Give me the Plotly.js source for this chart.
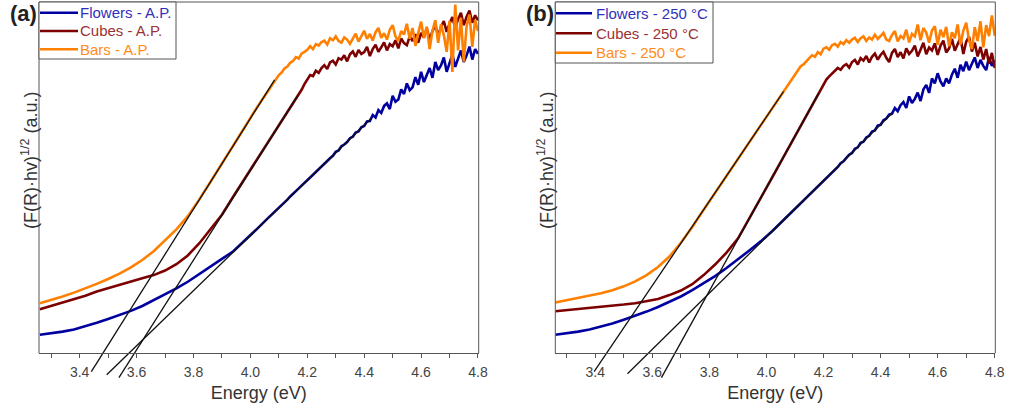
<!DOCTYPE html>
<html>
<head>
<meta charset="utf-8">
<script src="https://cdn.plot.ly/plotly-3.0.1.min.js"></script>
<style>html,body{margin:0;padding:0;background:#fff;}#chart{width:1018px;height:412px;}</style>
</head>
<body>
<div id="chart"></div>
<script>
// Photon energy (eV) – shared grid for all spectra
const energy = [3.26,3.30,3.34,3.38,3.42,3.46,3.50,3.54,3.58,3.62,3.66,3.70,3.74,3.78,3.82,3.86,3.90,3.94,3.98,4.02,4.06,
  4.08,4.09,4.10,4.11,4.12,4.13,4.14,4.15,4.16,4.17,
  4.18,4.19,4.20,4.21,4.22,4.23,4.24,4.25,4.26,4.27,
  4.28,4.29,4.30,4.31,4.32,4.33,4.34,4.35,4.36,4.37,
  4.38,4.39,4.40,4.41,4.42,4.43,4.44,4.45,4.46,4.47,
  4.48,4.49,4.50,4.51,4.52,4.53,4.54,4.55,4.56,4.57,
  4.58,4.59,4.60,4.61,4.62,4.63,4.64,4.65,4.66,4.67,
  4.68,4.69,4.70,4.71,4.72,4.73,4.74,4.75,4.76,4.77,
  4.78,4.79,4.80];

// (a) as-prepared samples, (F(R)·hv)^1/2 in a.u.
const flowersAP = [0.052,0.056,0.061,0.067,0.076,0.086,0.097,0.108,0.120,0.134,0.150,0.166,0.184,0.203,0.224,0.246,0.268,0.290,0.320,0.351,0.383,
  0.398,0.406,0.414,0.421,0.430,0.437,0.446,0.453,0.461,0.469,
  0.477,0.484,0.493,0.500,0.508,0.516,0.523,0.532,0.538,0.549,
  0.555,0.562,0.573,0.577,0.589,0.594,0.601,0.612,0.616,0.628,
  0.631,0.643,0.647,0.660,0.661,0.678,0.671,0.692,0.684,0.704,
  0.711,0.695,0.733,0.716,0.722,0.751,0.738,0.768,0.749,0.757,
  0.786,0.764,0.801,0.772,0.791,0.812,0.784,0.829,0.806,0.819,
  0.842,0.801,0.826,0.851,0.815,0.838,0.862,0.829,0.848,0.873,
  0.836,0.866,0.852];
const cubesAP = [0.125,0.134,0.143,0.153,0.163,0.175,0.185,0.193,0.203,0.213,0.222,0.235,0.253,0.278,0.312,0.352,0.394,0.446,0.497,0.548,0.597,
  0.622,0.635,0.649,0.660,0.672,0.685,0.698,0.710,0.724,0.737,
  0.750,0.766,0.781,0.792,0.789,0.804,0.798,0.812,0.820,0.809,
  0.828,0.833,0.822,0.840,0.836,0.848,0.831,0.851,0.859,0.844,
  0.863,0.852,0.857,0.872,0.846,0.866,0.878,0.858,0.871,0.885,
  0.862,0.880,0.874,0.891,0.868,0.896,0.883,0.877,0.902,0.889,
  0.908,0.884,0.912,0.899,0.925,0.893,0.917,0.934,0.904,0.929,
  0.946,0.915,0.938,0.957,0.926,0.951,0.969,0.934,0.958,0.976,
  0.941,0.962,0.948];
const barsAP = [0.142,0.151,0.161,0.172,0.184,0.197,0.211,0.226,0.244,0.265,0.290,0.320,0.352,0.390,0.437,0.488,0.539,0.591,0.643,0.696,0.745,
  0.770,0.781,0.792,0.799,0.811,0.816,0.827,0.832,0.843,0.839,
  0.853,0.858,0.864,0.874,0.866,0.880,0.876,0.886,0.890,0.879,
  0.897,0.891,0.902,0.889,0.884,0.899,0.893,0.881,0.896,0.910,
  0.887,0.904,0.918,0.895,0.909,0.890,0.914,0.926,0.898,0.911,
  0.893,0.921,0.934,0.902,0.889,0.917,0.908,0.938,0.895,0.926,
  0.875,0.912,0.944,0.897,0.930,0.866,0.918,0.948,0.884,0.937,
  0.905,0.858,0.946,0.801,0.993,0.862,0.955,0.830,0.931,0.964,
  0.872,0.949,0.917];

// (b) samples annealed at 250 °C
const flowers250 = [0.052,0.056,0.061,0.067,0.075,0.084,0.095,0.106,0.118,0.131,0.145,0.161,0.179,0.198,0.219,0.242,0.266,0.292,0.318,0.347,0.379,
  0.395,0.403,0.411,0.419,0.427,0.435,0.443,0.451,0.459,0.467,
  0.475,0.483,0.491,0.499,0.507,0.514,0.524,0.530,0.541,0.546,
  0.556,0.565,0.570,0.582,0.586,0.599,0.602,0.614,0.619,0.631,
  0.634,0.648,0.650,0.663,0.668,0.679,0.682,0.698,0.689,0.706,
  0.715,0.698,0.731,0.712,0.724,0.742,0.718,0.751,0.764,0.741,
  0.782,0.768,0.797,0.774,0.760,0.782,0.768,0.793,0.810,0.784,
  0.821,0.803,0.830,0.806,0.824,0.842,0.812,0.835,0.818,0.806,
  0.843,0.818,0.834];
const cubes250 = [0.119,0.122,0.125,0.127,0.130,0.134,0.138,0.142,0.147,0.154,0.165,0.178,0.196,0.222,0.252,0.286,0.326,0.383,0.442,0.500,0.559,
  0.588,0.603,0.617,0.632,0.647,0.661,0.676,0.690,0.706,0.720,
  0.736,0.751,0.765,0.779,0.788,0.797,0.803,0.812,0.807,0.818,
  0.823,0.813,0.829,0.835,0.822,0.840,0.833,0.846,0.828,0.844,
  0.853,0.836,0.849,0.858,0.841,0.829,0.855,0.866,0.843,0.857,
  0.839,0.868,0.852,0.861,0.876,0.845,0.864,0.884,0.851,0.870,
  0.862,0.882,0.849,0.876,0.890,0.856,0.868,0.895,0.861,0.879,
  0.898,0.852,0.887,0.901,0.859,0.884,0.845,0.872,0.836,0.866,
  0.824,0.855,0.812];
const bars250 = [0.144,0.150,0.156,0.162,0.170,0.179,0.190,0.204,0.222,0.245,0.275,0.314,0.359,0.408,0.456,0.505,0.553,0.601,0.649,0.697,0.745,
  0.768,0.781,0.794,0.803,0.817,0.822,0.832,0.840,0.848,0.844,
  0.857,0.851,0.867,0.871,0.864,0.877,0.881,0.873,0.886,0.880,
  0.891,0.884,0.893,0.898,0.886,0.897,0.902,0.889,0.899,0.893,
  0.907,0.895,0.903,0.912,0.893,0.889,0.906,0.917,0.888,0.903,
  0.896,0.921,0.885,0.909,0.902,0.936,0.891,0.926,0.913,0.884,
  0.919,0.931,0.878,0.921,0.900,0.929,0.874,0.914,0.897,0.936,
  0.879,0.918,0.941,0.892,0.866,0.928,0.889,0.945,0.871,0.934,
  0.903,0.962,0.904];

// Tauc-plot tangent lines (energy endpoints, a.u. endpoints)
const tanBarsAP_x = [3.441, 4.085],     tanBarsAP_y = [-0.053, 0.778];
const tanCubesAP_x = [3.538, 4.168],    tanCubesAP_y = [-0.070, 0.735];
const tanFlowersAP_x = [3.495, 4.425],  tanFlowersAP_y = [-0.062, 0.669];
const tanBars250_x = [3.396, 4.060],    tanBars250_y = [-0.053, 0.745];
const tanCubes250_x = [3.632, 4.183],   tanCubes250_y = [-0.070, 0.740];
const tanFlowers250_x = [3.513, 4.440], tanFlowers250_y = [-0.059, 0.683];

const seriesNamesAP = ['Flowers - A.P.', 'Cubes - A.P.', 'Bars - A.P.'];
const seriesNames250 = ['Flowers - 250 °C', 'Cubes - 250 °C', 'Bars - 250 °C'];
const xTickVals = [3.4, 3.6, 3.8, 4.0, 4.2, 4.4, 4.6, 4.8];

// ---- styling ----
const W = 1018, H = 412;
const lineCols = ['#0000a0', '#7d0000', '#ff8000'];
const textCols = ['#3030bb', '#993333', '#ff8c1a'];
const FONT = 'Liberation Sans, Arial, Helvetica, sans-serif';
const px2x = p => p / W;
const px2y = p => 1 - p / H;
const yDom = [px2y(381.1), px2y(2)];
const axisPos = px2y(353.2);

function curve(x, y, i, xa, ya) {
  return {x: x, y: y, type: 'scatter', mode: 'lines', xaxis: xa, yaxis: ya, showlegend: false,
    line: {color: lineCols[i], width: 2.6}, hoverinfo: 'skip'};
}
function tangent(x, y, xa, ya) {
  return {x: x, y: y, type: 'scatter', mode: 'lines', xaxis: xa, yaxis: ya, showlegend: false,
    line: {color: '#111', width: 1.3}, hoverinfo: 'skip'};
}

const traces = [
  curve(energy, flowersAP, 0, 'x', 'y'),
  curve(energy, cubesAP, 1, 'x', 'y'),
  curve(energy, barsAP, 2, 'x', 'y'),
  tangent(tanBarsAP_x, tanBarsAP_y, 'x', 'y'),
  tangent(tanCubesAP_x, tanCubesAP_y, 'x', 'y'),
  tangent(tanFlowersAP_x, tanFlowersAP_y, 'x', 'y'),
  curve(energy, flowers250, 0, 'x2', 'y2'),
  curve(energy, cubes250, 1, 'x2', 'y2'),
  curve(energy, bars250, 2, 'x2', 'y2'),
  tangent(tanBars250_x, tanBars250_y, 'x2', 'y2'),
  tangent(tanCubes250_x, tanCubes250_y, 'x2', 'y2'),
  tangent(tanFlowers250_x, tanFlowers250_y, 'x2', 'y2')
];

function xAxis(domain, range) {
  return {
    domain: domain, range: range, anchor: 'free', position: axisPos,
    showline: true, linecolor: '#555', linewidth: 1, mirror: false,
    showgrid: false, zeroline: false,
    tickmode: 'array', tickvals: xTickVals, tickformat: '.1f',
    ticks: 'outside', ticklen: 4, tickcolor: '#555', tickwidth: 1, ticklabelstandoff: 2,
    minor: {dtick: 0.1, tick0: 3.3, ticks: 'outside', ticklen: 4, tickcolor: '#555', tickwidth: 1, showgrid: false},
    tickfont: {family: FONT, size: 14, color: '#444'},
    title: {text: 'Energy (eV)', font: {family: FONT, size: 18, color: '#333'}, standoff: 7},
    fixedrange: true
  };
}
function yAxis(anchor) {
  return {domain: yDom, range: [-0.08, 1.0], anchor: anchor, showline: false, showgrid: false,
    zeroline: false, showticklabels: false, ticks: '', fixedrange: true};
}
function frame(xref) {
  const s = {type: 'line', xref: xref, yref: 'paper', line: {color: '#555', width: 1}};
  return [
    Object.assign({}, s, {x0: 0, x1: 0, y0: axisPos, y1: yDom[1]}),
    Object.assign({}, s, {x0: 1, x1: 1, y0: axisPos, y1: yDom[1]}),
    Object.assign({}, s, {x0: 0, x1: 1, y0: yDom[1], y1: yDom[1]})
  ];
}
// Legend boxes (drawn in paper space): box edges, sample-line span, text x, row centres (px)
function legendParts(box, lineX, textX, rows, names) {
  const shapes = [{type: 'rect', xref: 'paper', yref: 'paper', x0: px2x(box[0]), x1: px2x(box[1]),
    y0: px2y(box[3]), y1: px2y(box[2]), fillcolor: '#fff', line: {color: '#555', width: 1}}];
  const anns = [];
  rows.forEach((r, i) => {
    shapes.push({type: 'line', xref: 'paper', yref: 'paper', x0: px2x(lineX[0]), x1: px2x(lineX[1]),
      y0: px2y(r), y1: px2y(r), line: {color: lineCols[i], width: 2.6}});
    anns.push({text: names[i], x: px2x(textX), y: px2y(r), xref: 'paper', yref: 'paper', showarrow: false,
      xanchor: 'left', yanchor: 'middle', font: {family: FONT, size: 15, color: textCols[i]}});
  });
  return {shapes, anns};
}
const legA = legendParts([39, 176, 2, 59], [40, 78], 78, [12.7, 31, 49.3], seriesNamesAP);
const legB = legendParts([555.3, 713, 2, 63], [556, 592], 594, [13.3, 33.3, 52.7], seriesNames250);

const domA = [px2x(39), px2x(478.7)];
const domB = [px2x(555.3), px2x(995.3)];
const yTitle = '(F(R)·hv)<sup>1/2</sup> (a.u.)';

const layout = {
  width: W, height: H, margin: {l: 0, r: 0, t: 0, b: 0},
  paper_bgcolor: '#fff', plot_bgcolor: '#fff', showlegend: false,
  xaxis: xAxis(domA, [3.257, 4.8025]),
  yaxis: yAxis('x'),
  xaxis2: xAxis(domB, [3.260, 4.802]),
  yaxis2: yAxis('x2'),
  shapes: frame('x domain').concat(frame('x2 domain'), legA.shapes, legB.shapes),
  annotations: [
    {text: '<b>(a)</b>', x: px2x(23), y: px2y(14), xref: 'paper', yref: 'paper', showarrow: false,
     xanchor: 'center', yanchor: 'middle', font: {family: FONT, size: 22, color: '#222'}},
    {text: '<b>(b)</b>', x: px2x(540), y: px2y(14), xref: 'paper', yref: 'paper', showarrow: false,
     xanchor: 'center', yanchor: 'middle', font: {family: FONT, size: 22, color: '#222'}},
    {text: yTitle, textangle: -90, x: px2x(29), y: px2y(160), xref: 'paper', yref: 'paper', showarrow: false,
     xanchor: 'center', yanchor: 'middle', font: {family: FONT, size: 18, color: '#333'}},
    {text: yTitle, textangle: -90, x: px2x(545), y: px2y(160), xref: 'paper', yref: 'paper', showarrow: false,
     xanchor: 'center', yanchor: 'middle', font: {family: FONT, size: 18, color: '#333'}}
  ].concat(legA.anns, legB.anns)
};

Plotly.newPlot('chart', traces, layout, {staticPlot: true, displayModeBar: false});
</script>
</body>
</html>
